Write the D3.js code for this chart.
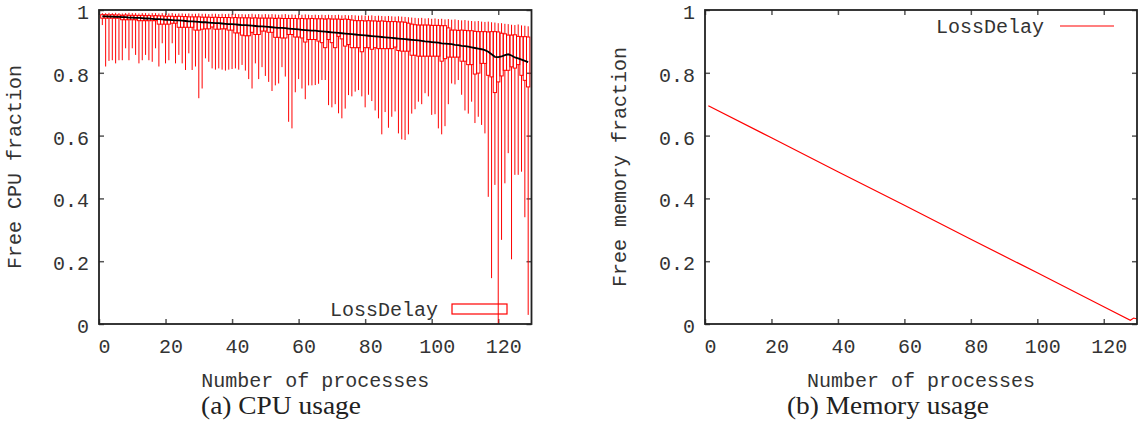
<!DOCTYPE html>
<html>
<head>
<meta charset="utf-8">
<script src="https://cdn.jsdelivr.net/npm/d3@7"></script>
<style>
body { margin: 0; background: #fff; }
text { font-family: "Liberation Mono", monospace; fill: #333; }
</style>
</head>
<body>
<div class="canvas"></div>
<script>
// number of processes (x categories)
var procs = d3.range(1, 130);

// free cpu fraction per process count: whisker low, box low, median, box high, whisker high
var cpuMin = [
    .952, .82, .838, .84, .83, .84, .84, .878, .84, .878,
    .857, .83, .84, .857, .84, .835, .878, .82, .894, .83,
    .84, .894, .83, .857, .83, .809, .862, .809, .82, .719,
    .75, .846, .835, .814, .81, .814, .81, .807, .81, .812,
    .814, .81, .825, .807, .78, .75, .83, .78, .818, .79,
    .771, .742, .76, .766, .818, .788, .644, .623, .738, .78,
    .75, .716, .76, .76, .761, .765, .777, .777, .697, .69,
    .70, .671, .655, .686, .729, .725, .74, .745, .725, .69,
    .73, .71, .68, .655, .604, .675, .625, .66, .677, .607,
    .588, .586, .604, .67, .684, .708, .70, .735, .725, .666,
    .668, .623, .604, .63, .70, .766, .763, .777, .73, .68,
    .67, .708, .64, .66, .634, .607, .405, .146, .443, 0,
    .268, .448, .544, .206, .475, .475, .485, .34, .029
];
var cpuQ1 = [
    .974, .974, .974, .974, .974, .974, .969, .969, .969, .969,
    .969, .966, .966, .966, .966, .966, .966, .955, .955, .955,
    .955, .958, .958, .945, .945, .945, .945, .945, .936, .936,
    .939, .940, .940, .946, .939, .939, .940, .940, .936, .936,
    .927, .927, .920, .918, .918, .929, .922, .922, .933, .933,
    .929, .929, .913, .913, .911, .911, .922, .922, .914, .914,
    .911, .898, .906, .906, .906, .901, .896, .880, .906, .896,
    .880, .916, .908, .885, .890, .880, .880, .880, .867, .880,
    .880, .875, .880, .877, .877, .877, .877, .877, .882, .871,
    .869, .869, .869, .856, .856, .853, .853, .853, .853, .853,
    .853, .853, .837, .845, .850, .850, .850, .850, .837, .837,
    .826, .826, .796, .799, .830, .830, .792, .787, .737, .771,
    .790, .808, .808, .819, .815, .826, .792, .776, .755
];
var cpuMed = [
    .980, .980, .979, .979, .978, .978, .977, .977, .976, .976,
    .975, .975, .974, .973, .973, .972, .971, .971, .970, .969,
    .969, .968, .967, .967, .966, .965, .964, .964, .963, .962,
    .961, .961, .960, .959, .958, .958, .957, .956, .955, .955,
    .954, .953, .952, .952, .951, .950, .949, .948, .948, .947,
    .946, .945, .944, .943, .943, .942, .941, .940, .939, .938,
    .937, .936, .935, .934, .934, .933, .932, .931, .930, .929,
    .928, .927, .926, .925, .924, .923, .922, .921, .920, .919,
    .918, .917, .916, .915, .914, .913, .912, .911, .910, .909,
    .908, .907, .906, .905, .904, .903, .902, .900, .899, .898,
    .897, .896, .894, .893, .892, .891, .889, .888, .886, .885,
    .883, .881, .879, .877, .875, .872, .867, .859, .851, .850,
    .852, .856, .859, .855, .849, .846, .842, .838, .834
];
var cpuQ3 = [
    .985, .985, .984, .985, .984, .984, .983, .984, .983, .983,
    .983, .982, .983, .982, .982, .981, .982, .981, .981, .980,
    .980, .980, .979, .980, .979, .979, .978, .978, .978, .978,
    .977, .977, .977, .976, .977, .976, .976, .976, .976, .975,
    .976, .975, .975, .975, .975, .974, .975, .974, .974, .974,
    .974, .974, .973, .974, .973, .973, .973, .973, .973, .972,
    .973, .972, .972, .973, .972, .972, .972, .971, .972, .971,
    .971, .971, .970, .971, .970, .968, .966, .966, .966, .965,
    .966, .965, .965, .964, .965, .964, .963, .963, .963, .962,
    .962, .961, .958, .955, .953, .952, .952, .952, .952, .951,
    .951, .951, .950, .950, .943, .936, .936, .935, .936, .935,
    .934, .934, .932, .931, .931, .931, .930, .931, .931, .930,
    .926, .924, .920, .920, .921, .916, .915, .915, .914
];
var cpuMax = [
    .990, .990, .991, .990, .991, .990, .989, .990, .991, .990,
    .990, .989, .990, .990, .989, .990, .990, .989, .990, .989,
    .989, .990, .988, .989, .989, .988, .989, .988, .988, .989,
    .988, .988, .987, .988, .988, .987, .988, .987, .988, .987,
    .988, .987, .987, .986, .987, .988, .986, .987, .986, .987,
    .986, .987, .986, .985, .986, .987, .985, .986, .985, .986,
    .985, .986, .985, .984, .985, .984, .985, .984, .985, .984,
    .984, .985, .983, .984, .983, .984, .983, .982, .983, .982,
    .982, .983, .981, .982, .981, .980, .981, .980, .979, .980,
    .979, .978, .977, .976, .975, .974, .975, .973, .974, .972,
    .973, .971, .972, .970, .971, .969, .970, .968, .967, .968,
    .966, .965, .964, .965, .963, .962, .963, .961, .960, .958,
    .958, .956, .955, .953, .952, .954, .951, .950, .948
];

// free memory fraction, read at a few points along the line
var memX = [1, 20, 40, 60, 80, 100, 120, 128, 129, 130];
var memY = [0.695, 0.593, 0.485, 0.378, 0.270, 0.163, 0.055, 0.012, 0.019, 0.016];

// ticks
var xTicks = [0, 20, 40, 60, 80, 100, 120];
var yTicks = [0, 0.2, 0.4, 0.6, 0.8, 1];

var width = 1138,
    height = 421;

var svg = d3.select('.canvas').append('svg')
    .attr('width', width)
    .attr('height', height);

svg.append('rect')
    .attr('width', width)
    .attr('height', height)
    .attr('fill', '#fff');

// one panel: frame, ticks, labels, caption
function panel(left, right, yLabel, labelX, caption, capX, capLen) {
    var x = d3.scaleLinear().domain([0, 130]).range([left, right]),
        y = d3.scaleLinear().domain([0, 1]).range([324, 10]);

    var g = svg.append('g');

    var bottom = g.append('g')
        .attr('transform', 'translate(0,324)')
        .call(d3.axisBottom(x).tickValues(xTicks).tickSize(-5).tickPadding(15)
            .tickFormat(function (d) { return String(d); }));
    bottom.selectAll('text').attr('x', 5);

    g.append('g')
        .attr('transform', 'translate(0,10)')
        .call(d3.axisTop(x).tickValues(xTicks).tickSize(-5).tickFormat(''));

    var leftAxis = g.append('g')
        .attr('transform', 'translate(' + left + ',0)')
        .call(d3.axisLeft(y).tickValues(yTicks).tickSize(-5).tickPadding(10)
            .tickFormat(function (d) { return String(d); }));
    leftAxis.selectAll('text').attr('dy', '0.42em');

    g.append('g')
        .attr('transform', 'translate(' + right + ',0)')
        .call(d3.axisRight(y).tickValues(yTicks).tickSize(-5).tickFormat(''));

    g.selectAll('.domain').remove();
    g.selectAll('.tick line').attr('stroke', '#555').attr('stroke-width', 1.5);
    g.selectAll('.tick text')
        .attr('font-size', 20)
        .attr('font-family', '"Liberation Mono", monospace')
        .attr('fill', '#333');

    g.append('text')
        .attr('x', (left + right) / 2)
        .attr('y', 387)
        .attr('text-anchor', 'middle')
        .attr('font-size', 20)
        .text('Number of processes');

    g.append('text')
        .attr('transform', 'translate(' + labelX + ',167) rotate(-90)')
        .attr('text-anchor', 'middle')
        .attr('font-size', 20)
        .text(yLabel);

    g.append('text')
        .attr('x', capX)
        .attr('y', 414)
        .attr('text-anchor', 'middle')
        .attr('font-size', 25)
        .attr('textLength', capLen)
        .attr('lengthAdjust', 'spacingAndGlyphs')
        .style('font-family', '"Liberation Serif", serif')
        .style('fill', '#222')
        .text(caption);

    return {x: x, y: y, g: g, left: left, right: right};
}

function frame(p) {
    p.g.append('rect')
        .attr('x', p.left)
        .attr('y', 10)
        .attr('width', p.right - p.left)
        .attr('height', 314)
        .attr('fill', 'none')
        .attr('stroke', '#222')
        .attr('stroke-width', 1.8);
}

// (a) cpu usage
var a = panel(99, 531.5, 'Free CPU fraction', 21, '(a) CPU usage', 281, 160);

var hw = (a.x(1) - a.x(0)) / 2;
var candles = procs.map(function (p, i) {
    return {p: p, lo: cpuMin[i], q1: cpuQ1[i], med: cpuMed[i], q3: cpuQ3[i], hi: cpuMax[i]};
});

var cg = a.g.append('g').attr('stroke', '#ff0000').attr('stroke-width', 1).attr('fill', 'none');

cg.selectAll('line.low')
    .data(candles)
    .enter()
    .append('line')
    .attr('x1', function (d) { return a.x(d.p); })
    .attr('x2', function (d) { return a.x(d.p); })
    .attr('y1', function (d) { return a.y(d.lo); })
    .attr('y2', function (d) { return a.y(d.q1); });

cg.selectAll('line.high')
    .data(candles)
    .enter()
    .append('line')
    .attr('x1', function (d) { return a.x(d.p); })
    .attr('x2', function (d) { return a.x(d.p); })
    .attr('y1', function (d) { return a.y(d.q3); })
    .attr('y2', function (d) { return a.y(d.hi); });

cg.selectAll('rect')
    .data(candles)
    .enter()
    .append('rect')
    .attr('x', function (d) { return a.x(d.p) - hw; })
    .attr('y', function (d) { return a.y(d.q3); })
    .attr('width', hw * 2)
    .attr('height', function (d) { return a.y(d.q1) - a.y(d.q3); });

a.g.append('path')
    .datum(candles)
    .attr('fill', 'none')
    .attr('stroke', '#000')
    .attr('stroke-width', 1.8)
    .attr('d', d3.line()
        .x(function (d) { return a.x(d.p); })
        .y(function (d) { return a.y(d.med); }));

// legend
a.g.append('text')
    .attr('x', 438)
    .attr('y', 316)
    .attr('text-anchor', 'end')
    .attr('font-size', 20)
    .text('LossDelay');
a.g.append('rect')
    .attr('x', 452)
    .attr('y', 304)
    .attr('width', 55)
    .attr('height', 10)
    .attr('fill', 'none')
    .attr('stroke', '#ff0000')
    .attr('stroke-width', 1.2);

frame(a);

// (b) memory usage
var b = panel(705, 1137, 'Free memory fraction', 626, '(b) Memory usage', 888, 202);

b.g.append('path')
    .datum(memX.map(function (v, i) { return [v, memY[i]]; }))
    .attr('fill', 'none')
    .attr('stroke', '#ff0000')
    .attr('stroke-width', 1.2)
    .attr('d', d3.line()
        .x(function (d) { return b.x(d[0]); })
        .y(function (d) { return b.y(d[1]); }));

b.g.append('text')
    .attr('x', 1044)
    .attr('y', 33)
    .attr('text-anchor', 'end')
    .attr('font-size', 20)
    .text('LossDelay');
b.g.append('line')
    .attr('x1', 1060)
    .attr('x2', 1114)
    .attr('y1', 26)
    .attr('y2', 26)
    .attr('stroke', '#ff0000')
    .attr('stroke-width', 1.2);

frame(b);
</script>
</body>
</html>
